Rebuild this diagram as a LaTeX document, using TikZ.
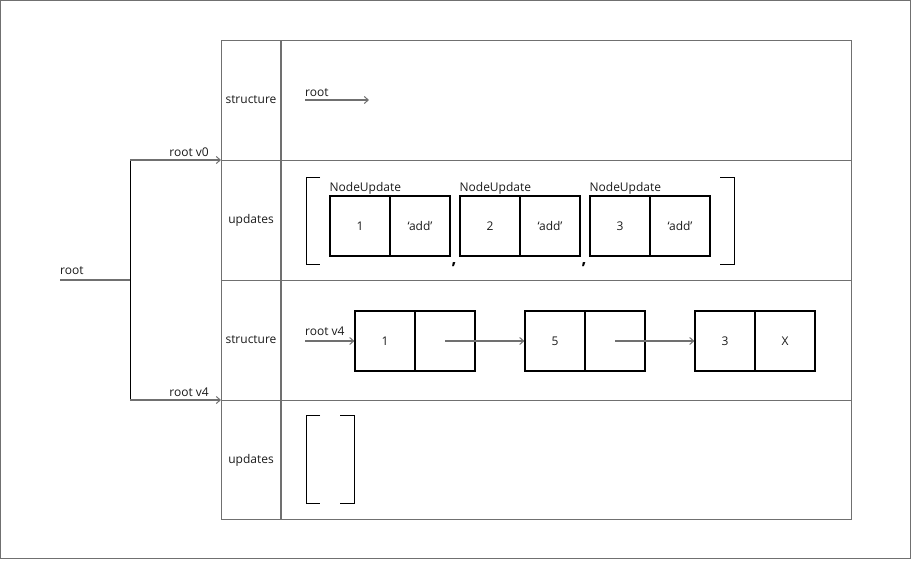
\documentclass[tikz,border=0pt]{standalone}
\usepackage{fontspec}
\setmainfont{Open Sans}
\usetikzlibrary{arrows.meta}
\definecolor{linegray}{HTML}{707070}
\definecolor{txtcol}{HTML}{1A1A1A}
\begin{document}
\begin{tikzpicture}[x=1pt,y=-1pt,
  txt/.style={inner sep=0pt,text=txtcol,font=\fontsize{12}{14}\selectfont},
  cell/.style={draw=black,line width=1.2pt,minimum width=60pt,minimum height=60pt,inner sep=0pt,text=txtcol,font=\fontsize{12}{14}\selectfont},
  panel/.style={draw=linegray,line width=1pt},
  conn/.style={draw=linegray,line width=1.4pt,-{Straight Barb[length=4pt,width=7pt,line width=1pt]}},
  plain/.style={draw=linegray,line width=1.4pt},
  brk/.style={draw=black,line width=1pt},
  comma/.style={inner sep=0pt,text=black,font=\fontsize{17}{17}\selectfont\bfseries}]
\useasboundingbox (0,0) rectangle (912,560);
\draw[panel] (0.5,0.5) rectangle (910.5,558.5);
% panel
\draw[panel] (221,40) rectangle (851,519);
\draw[draw=linegray,line width=1.8pt] (281,40) -- (281,519);
\foreach \yy in {160,280,400} \draw[panel] (221,\yy) -- (851,\yy);
% row labels
\node[txt] (lab1) at (251,100) {structure};
\node[txt] (lab2) at (251,220) {updates};
\node[txt] (lab3) at (251,340) {structure};
\node[txt] (lab4) at (251,460) {updates};
% row 1
\coordinate (r1a) at (305,100);
\coordinate (r1b) at (369,100);
\draw[conn] (r1a) -- (r1b);
\node[txt,anchor=base west] (r1t) at (305,96) {root};
% row 2 brackets
\draw[brk] (320,177) -- (306,177) -- (306,264) -- (320,264);
\draw[brk] (720,177) -- (734,177) -- (734,264) -- (720,264);
\node[cell] (u1a) at (360,226) {1};
\node[cell] (u1b) at (420,226) {‘add’};
\node[cell] (u2a) at (490,226) {2};
\node[cell] (u2b) at (550,226) {‘add’};
\node[cell] (u3a) at (620,226) {3};
\node[cell] (u3b) at (680,226) {‘add’};
\node[txt,anchor=base west] (n1) at ([yshift=4pt]u1a.north west) {NodeUpdate};
\node[txt,anchor=base west] (n2) at ([yshift=4pt]u2a.north west) {NodeUpdate};
\node[txt,anchor=base west] (n3) at ([yshift=4pt]u3a.north west) {NodeUpdate};
\node[comma] (c1) at (454,265) {,};
\node[comma] (c2) at (584,265) {,};
% row 3
\node[cell] (l1a) at (385,341) {1};
\node[cell] (l1b) at (445,341) {};
\node[cell] (l2a) at (555,341) {5};
\node[cell] (l2b) at (615,341) {};
\node[cell] (l3a) at (725,341) {3};
\node[cell] (l3b) at (785,341) {X};
\coordinate (r3a) at (305,341);
\draw[conn] (r3a) -- (l1a.west);
\node[txt,anchor=base west] (r3t) at (305,335) {root v4};
\draw[conn] (l1b.center) -- (l2a.west);
\draw[conn] (l2b.center) -- (l3a.west);
% row 4 brackets
\draw[brk] (320,415) -- (306,415) -- (306,503) -- (320,503);
\draw[brk] (340,415) -- (354,415) -- (354,503) -- (340,503);
% left tree
\coordinate (rootl) at (60,280);
\coordinate (fork) at (130,280);
\coordinate (ft) at (130,160);
\coordinate (fb) at (130,400);
\coordinate (v0) at (221,160);
\coordinate (v4) at (221,400);
\draw[plain] (rootl) -- (fork);
\draw[draw=black,line width=1pt] (ft) -- (fb);
\draw[conn] (ft) -- (v0);
\draw[conn] (fb) -- (v4);
\node[txt,anchor=base west] (rt) at (60,274) {root};
\node[txt,anchor=base east] (rv0) at (209,156) {root v0};
\node[txt,anchor=base east] (rv4) at (209,396) {root v4};
\end{tikzpicture}
\end{document}
